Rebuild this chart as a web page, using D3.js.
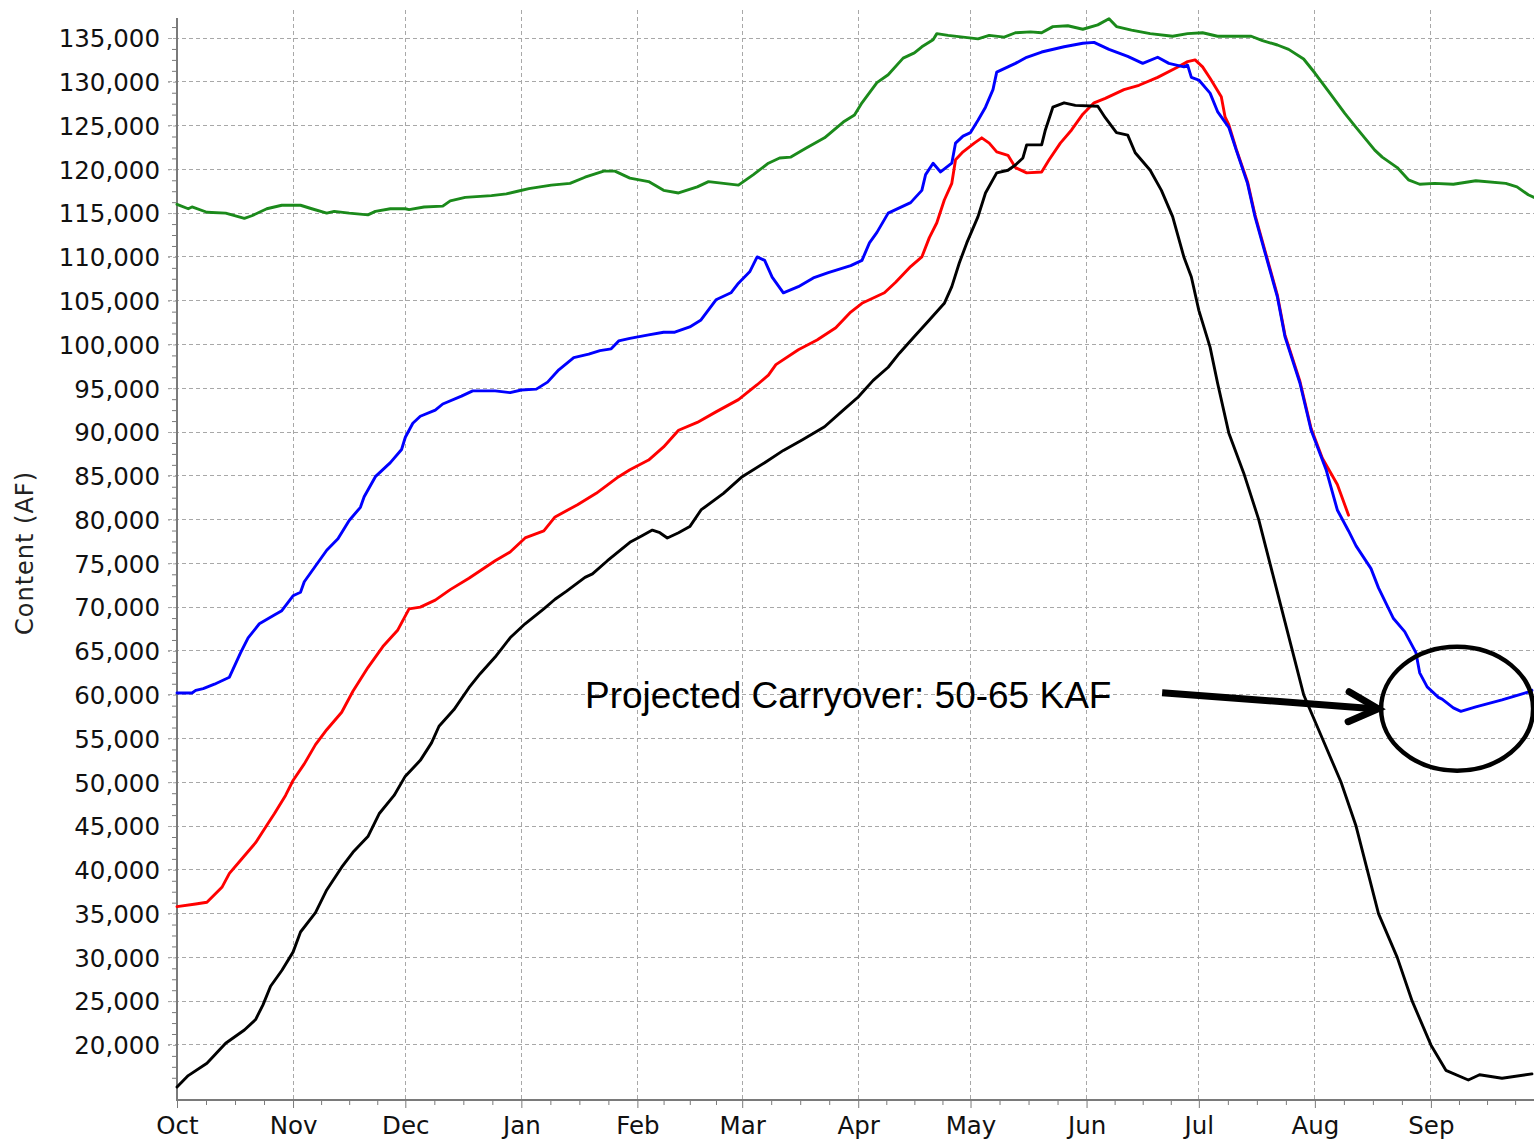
<!DOCTYPE html>
<html><head><meta charset="utf-8">
<script src="https://cdn.jsdelivr.net/npm/d3@7"></script>
<style>body{margin:0;background:#fff}svg{display:block}</style>
</head><body>
<svg id="chart" width="1534" height="1140"></svg>
<script>
// ---------- DATA (day = days since Oct 1 of the water year) ----------
const monthLabels = ["Oct","Nov","Dec","Jan","Feb","Mar","Apr","May","Jun","Jul","Aug","Sep"];
const yTickValues = d3.range(20000, 135001, 5000);
const yAxisTitle = "Content (AF)";
const annotationText = "Projected Carryover: 50-65 KAF";

const greenDays = [0,3,4,8,13,18,20,24,28,33,36,40,42,46,51,53,57,61,62,66,71,73,77,84,88,91,94,100,105,109,114,117,121,126,130,134,139,142,146,150,154,158,161,164,168,173,178,181,183,187,190,194,197,199,202,203,206,210,214,217,221,224,228,231,234,238,242,246,249,251,255,260,266,270,274,278,287,290,294,297,301,304,308,312,315,320,322,326,329,332,336,341,347,355,358,361,363];
const greenValues = [116000,115500,115700,115100,115000,114400,114700,115500,115900,115900,115500,115000,115200,115000,114800,115200,115500,115500,115400,115700,115800,116400,116800,117000,117200,117500,117800,118200,118400,119100,119800,119800,119000,118600,117600,117300,118000,118600,118400,118200,119400,120700,121300,121400,122400,123600,125400,126200,127600,129900,130800,132700,133300,134000,134800,135500,135300,135100,134900,135300,135100,135600,135700,135600,136300,136400,136000,136500,137200,136300,135900,135500,135200,135500,135600,135200,135200,134700,134200,133700,132600,131000,128700,126400,124800,122200,121400,120200,118800,118300,118400,118300,118700,118400,118000,117100,116700];

const blueDays = [0,4,5,7,10,14,17,19,22,26,28,31,33,34,37,40,43,46,49,50,53,57,60,61,63,65,69,71,76,79,85,89,92,96,99,102,106,110,113,116,118,121,126,130,133,137,140,144,148,150,153,155,157,159,162,166,170,174,180,183,185,187,190,196,199,200,202,204,207,208,210,212,214,216,218,219,222,224,227,231,237,242,245,249,254,258,262,265,269,270,271,273,276,278,279,281,283,286,288,291,294,296,300,303,307,310,311,313,315,319,321,325,328,331,332,334,337,338,341,343,347,354,361,362];
const blueValues = [60200,60200,60500,60700,61200,62000,64800,66500,68100,69100,69600,71300,71700,72900,74700,76500,77800,79900,81400,82600,84900,86500,88000,89400,91000,91800,92500,93200,94100,94700,94700,94500,94800,94900,95700,97100,98500,98900,99300,99500,100400,100700,101100,101400,101400,102000,102800,105100,105900,107000,108300,110000,109600,107700,105900,106600,107600,108200,109000,109600,111600,112800,115000,116200,117600,119400,120700,119700,120700,123000,123800,124200,125600,127100,129100,131100,131700,132100,132800,133400,134000,134400,134500,133700,132900,132100,132800,132100,131700,131900,130500,130200,128700,126600,126000,124800,122200,118400,114600,110000,105400,100900,95600,90200,85700,81100,80300,78700,77000,74400,72200,68700,67200,64800,62500,60900,59700,59500,58500,58100,58600,59400,60300,60500];

const redDays = [0,5,8,12,14,17,21,24,26,29,31,34,37,40,44,47,51,55,59,62,65,69,73,78,85,89,93,98,101,107,112,118,121,126,130,134,139,144,150,155,158,160,166,171,176,180,183,189,192,196,199,201,203,205,207,208,210,213,215,217,219,222,224,227,231,233,236,239,242,245,248,253,257,262,267,270,272,274,276,279,280,281,283,286,288,291,294,296,300,303,306,310,313];
const redValues = [35800,36100,36300,38000,39600,41100,43100,45100,46400,48500,50200,52100,54300,56000,58000,60400,63100,65500,67400,69800,70000,70800,72000,73300,75300,76300,77900,78700,80300,81700,83000,84900,85700,86800,88300,90200,91100,92300,93700,95400,96500,97700,99400,100500,101900,103700,104700,105900,107100,108900,110000,112200,113900,116500,118400,121100,122000,123000,123600,123000,122000,121600,120200,119600,119700,121100,123000,124500,126300,127600,128100,129100,129600,130500,131600,132300,132500,131700,130400,128300,126000,125100,122300,118600,114800,110200,105600,101100,95800,90400,87000,84000,80500];

const blackDays = [0,3,8,13,18,21,23,25,28,31,33,37,40,44,47,51,54,58,61,65,68,70,74,78,81,85,89,93,98,101,104,109,111,115,121,124,127,129,131,134,137,140,146,151,157,162,167,173,178,182,186,190,193,197,201,205,207,209,211,214,216,219,222,224,226,227,231,232,234,237,240,246,248,251,254,256,260,263,266,269,271,273,276,278,281,285,289,292,295,298,301,306,311,315,318,321,326,330,335,339,345,348,354,362];
const blackValues = [15200,16500,17900,20200,21700,22900,24600,26700,28500,30600,32900,35100,37700,40300,42000,43800,46400,48500,50700,52500,54500,56400,58300,60800,62400,64300,66500,68100,69800,70900,71800,73400,73800,75300,77400,78100,78800,78500,77900,78500,79200,81100,83000,84900,86500,87900,89100,90600,92500,94000,95900,97400,99000,100900,102800,104700,106600,109300,111600,114600,117300,119600,119900,120500,121300,122800,122800,124500,127100,127600,127300,127200,125900,124200,123900,121900,119900,117600,114600,110000,107700,103900,99700,95600,89900,85300,80000,75000,70000,65000,60000,55000,50000,45000,40000,35000,30000,25000,20000,17100,16000,16600,16200,16700];

const seriesList = [
  {name:"green", color:"#1b8a1b", days:greenDays, values:greenValues},
  {name:"red",   color:"#ff0000", days:redDays,   values:redValues},
  {name:"blue",  color:"#0000ff", days:blueDays,  values:blueValues},
  {name:"black", color:"#000000", days:blackDays, values:blackValues}
];

// annotation anchors in data space
const ellipseCenter = {day:342, value:58400};
const arrowTip = {day:320.9, value:58400};
const textAnchor = {day:109, value:58500};

// ---------- CHART ----------
const W = 1534, H = 1140;
const dayToDate = d => new Date(Date.UTC(2014, 9, 1) + d*86400000);
const x = d3.scaleUtc().domain([dayToDate(0), dayToDate(364)]).range([177, 177 + 364*3.743]);
const y = d3.scaleLinear().domain([13712, 138198]).range([1100, 10]);

const svg = d3.select("#chart");
svg.append("rect").attr("width", W).attr("height", H).attr("fill", "#fff");

const monthDates = d3.range(12).map(i => new Date(Date.UTC(2014, 9 + i, 1)));
const nextOct = new Date(Date.UTC(2015, 9, 1));
const allMonthEdges = monthDates.concat([nextOct]);
const minorXDates = [];
for (let i = 0; i < 12; i++) {
  const a = +allMonthEdges[i], b = +allMonthEdges[i+1];
  for (let k = 1; k < 4; k++) minorXDates.push(new Date(a + (b - a) * k / 4));
}
const minorYValues = d3.range(16250, 136251, 1250).filter(v => v % 5000 !== 0);

const gridColor = "#a8a8a8";
svg.append("g").selectAll("line").data(yTickValues).join("line")
  .attr("x1", 168).attr("x2", W).attr("y1", d => y(d)).attr("y2", d => y(d))
  .attr("stroke", gridColor).attr("stroke-width", 1).attr("stroke-dasharray", "4,3")
  .attr("shape-rendering", "crispEdges");
svg.append("g").selectAll("line").data(monthDates.slice(1)).join("line")
  .attr("x1", d => x(d)).attr("x2", d => x(d)).attr("y1", 10).attr("y2", 1100)
  .attr("stroke", gridColor).attr("stroke-width", 1).attr("stroke-dasharray", "4,3")
  .attr("shape-rendering", "crispEdges");

const axisColor = "#7a7a7a";
const font = "'DejaVu Sans', Verdana, sans-serif";

const gy = svg.append("g").attr("transform", "translate(177,0)")
  .call(d3.axisLeft(y).tickValues(yTickValues).tickSize(9).tickSizeOuter(0).tickPadding(8).tickFormat(d3.format(",")));
gy.select(".domain").remove();
gy.selectAll(".tick line").attr("stroke", gridColor).attr("stroke-dasharray", "4,3");
gy.selectAll(".tick text").attr("font-family", font).attr("font-size", "24.5px").attr("fill", "#111").attr("dy", "0.36em");
svg.append("g").attr("transform", "translate(177,0)")
  .call(d3.axisLeft(y).tickValues(minorYValues).tickSize(5).tickFormat(""))
  .call(g => g.select(".domain").remove())
  .selectAll(".tick line").attr("stroke", axisColor);

const gx = svg.append("g").attr("transform", "translate(0,1100)")
  .call(d3.axisBottom(x).tickValues(monthDates).tickSize(8).tickSizeOuter(0).tickPadding(9)
    .tickFormat((d, i) => monthLabels[i]));
gx.select(".domain").remove();
gx.selectAll(".tick line").attr("stroke", axisColor);
gx.selectAll(".tick text").attr("font-family", font).attr("font-size", "24.5px").attr("fill", "#111");
svg.append("g").attr("transform", "translate(0,1100)")
  .call(d3.axisBottom(x).tickValues(minorXDates).tickSize(5).tickFormat(""))
  .call(g => g.select(".domain").remove())
  .selectAll(".tick line").attr("stroke", axisColor);

svg.append("line").attr("x1", 177).attr("x2", 177).attr("y1", 18).attr("y2", 1101)
  .attr("stroke", axisColor).attr("stroke-width", 2);
svg.append("line").attr("x1", 176).attr("x2", W).attr("y1", 1100).attr("y2", 1100)
  .attr("stroke", axisColor).attr("stroke-width", 2);

svg.append("text").attr("transform", "translate(33,553) rotate(-90)")
  .attr("text-anchor", "middle").attr("font-family", font).attr("font-size", "24px")
  .attr("letter-spacing", "1px").attr("fill", "#222").text(yAxisTitle);

const line = d3.line().x(d => x(dayToDate(d[0]))).y(d => y(d[1]));
svg.append("g").selectAll("path").data(seriesList).join("path")
  .attr("d", s => line(s.days.map((d, i) => [d, s.values[i]])))
  .attr("fill", "none").attr("stroke", s => s.color).attr("stroke-width", 2.9)
  .attr("stroke-linejoin", "round").attr("stroke-linecap", "round");

svg.append("text").attr("x", x(dayToDate(textAnchor.day))).attr("y", y(textAnchor.value))
  .attr("font-family", "'Liberation Sans', Arial, sans-serif").attr("font-size", "37px")
  .attr("fill", "#000").text(annotationText);

const tx = x(dayToDate(arrowTip.day)), ty = y(arrowTip.value);
svg.append("line").attr("x1", tx - 216).attr("y1", ty - 16).attr("x2", tx - 4).attr("y2", ty)
  .attr("stroke", "#000").attr("stroke-width", 7).attr("stroke-linecap", "butt");
svg.append("path")
  .attr("d", `M${tx - 29},${ty - 17} L${tx},${ty} L${tx - 30},${ty + 13}`)
  .attr("fill", "none").attr("stroke", "#000").attr("stroke-width", 7)
  .attr("stroke-linecap", "round").attr("stroke-linejoin", "miter");

svg.append("ellipse").attr("cx", x(dayToDate(ellipseCenter.day))).attr("cy", y(ellipseCenter.value))
  .attr("rx", 76).attr("ry", 62).attr("fill", "none").attr("stroke", "#000").attr("stroke-width", 4.5);
</script>
</body></html>
